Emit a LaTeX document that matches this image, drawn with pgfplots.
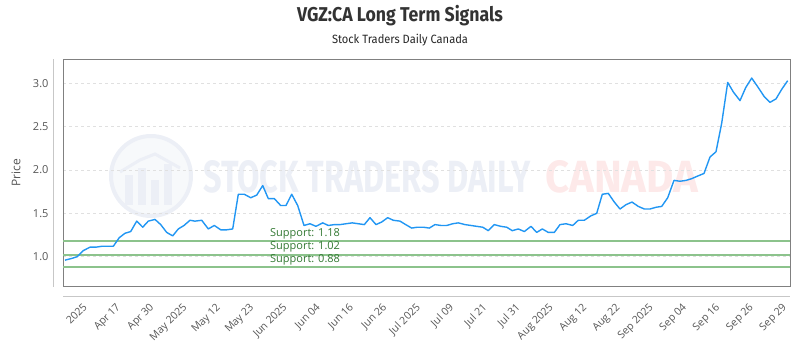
\documentclass[border=0pt]{standalone}
\usepackage{pgfplots}
\pgfplotsset{compat=1.18}
\usepackage{graphicx}
\usepackage{fontspec}
\setmainfont{Open Sans}
\newfontfamily\titlefont{Fira Sans}
\definecolor{linecol}{RGB}{33,150,243}
\definecolor{supcol}{RGB}{140,195,140}
\definecolor{suptxt}{RGB}{50,120,50}
\definecolor{wmblue}{RGB}{236,239,246}
\definecolor{wmpink}{RGB}{253,233,233}
\definecolor{txtgray}{RGB}{85,85,85}
\begin{document}
\begin{tikzpicture}[x=1pt,y=1pt]
\path[use as bounding box] (0,0) rectangle (800,350);
% title
\node[anchor=center,text=black!80] at (400,334) {\resizebox{206pt}{\height}{\titlefont\fontsize{20}{24}\selectfont\bfseries VGZ:CA Long Term Signals}};
\node[anchor=center,text=black!85] at (400,310) {\resizebox{136pt}{\height}{\titlefont\fontsize{12}{14}\selectfont Stock Traders Daily Canada}};
% watermark
\draw[wmblue,line width=4pt,fill=wmblue!40] (151,174) circle (40);
\fill[wmblue] (125,145) rectangle (133,175);
\fill[wmblue] (138,145) rectangle (146,182);
\fill[wmblue] (151,145) rectangle (159,170);
\fill[wmblue] (164,145) rectangle (172,186);
\draw[wmblue,line width=3pt] (120,178) -- (140,190) -- (155,196) -- (180,182);
\node[anchor=south west,inner sep=0] at (203,157) {\resizebox{327pt}{32pt}{\titlefont\bfseries\color{wmblue}STOCK TRADERS DAILY}};
\node[anchor=south west,inner sep=0] at (545,157) {\resizebox{153pt}{32pt}{\titlefont\bfseries\color{wmpink}CANADA}};
% y axis line and x axis line
\draw[black!22,line width=0.8pt] (53,63) -- (53,291);
\draw[black!22,line width=0.8pt] (63,54) -- (790,54);
\node[rotate=90,text=txtgray,font=\fontsize{12}{14}\selectfont] at (16,177) {Price};
\begin{axis}[
  at={(63pt,64pt)}, anchor=south west,
  scale only axis, width=727pt, height=227pt,
  xmin=63, xmax=790, ymin=0.662, ymax=3.28,
  axis line style={black!50,line width=0.8pt},
  major tick length=0pt,
  ytick={1.0,1.5,2.0,2.5,3.0},
  yticklabel style={/pgf/number format/.cd,fixed,fixed zerofill,precision=1,/tikz/.cd, text=txtgray, font=\fontsize{11}{13}\selectfont, xshift=-11pt},
  /pgf/number format/assume math mode=true,
  ymajorgrids,
  major grid style={dashed,black!12,line width=0.5pt},
  xtick={80,113.3,146.6,179.9,213.2,246.5,279.8,313.1,346.4,379.7,413,446.3,479.6,512.9,546.2,579.5,612.8,646.1,679.4,712.7,746,779.3},
  xticklabels={2025,Apr 17,Apr 30,May 2025,May 12,May 23,Jun 2025,Jun 04,Jun 16,Jun 26,Jul 2025,Jul 09,Jul 21,Jul 31,Aug 2025,Aug 12,Aug 22,Sep 2025,Sep 04,Sep 16,Sep 26,Sep 29},
  xticklabel style={rotate=45,anchor=north east,text=txtgray,font=\fontsize{10.5}{12}\selectfont,inner sep=1pt,yshift=-12pt,xshift=-9pt},
  clip=false,
]
\addplot[supcol,line width=1.8pt] coordinates {(63,1.18) (790,1.18)};
\addplot[supcol,line width=1.8pt] coordinates {(63,1.02) (790,1.02)};
\addplot[supcol,line width=1.8pt] coordinates {(63,0.88) (790,0.88)};
\addplot[linecol,line width=1.4pt,line join=round] coordinates {
(65,0.96) (71.7,0.98) (77.3,1.00) (83.3,1.07) (90,1.11) (96,1.11) (101.7,1.12) (107.7,1.12) (113.3,1.12)
(119.3,1.22) (125,1.27) (130.7,1.29) (136.7,1.41) (142.7,1.34) (148.3,1.41) (155,1.43) (160.7,1.37)
(166.7,1.28) (172.7,1.24) (178.3,1.32) (184,1.36) (190,1.42) (195,1.41) (201.7,1.42) (208.3,1.32)
(214.3,1.36) (220.7,1.31) (226.7,1.31) (232.7,1.32) (238.3,1.72) (244.3,1.72) (250.7,1.68) (256.7,1.71)
(262.7,1.82) (268.3,1.67) (274.3,1.67) (280.7,1.59) (286,1.59) (291.7,1.72) (297.7,1.59) (304,1.36)
(310,1.38) (316,1.35) (322.7,1.39) (328.3,1.36) (334.3,1.37) (340,1.37) (346,1.38) (352.3,1.39)
(358.3,1.38) (364.3,1.37) (370,1.45) (376,1.37) (381.7,1.40) (387.7,1.45) (393.3,1.42) (400,1.41)
(405.7,1.37) (411.7,1.33) (417.3,1.34) (423.3,1.34) (429.3,1.33) (435,1.37) (441,1.36) (446.7,1.36)
(452.7,1.38) (458.3,1.39) (465,1.37) (471,1.36) (476.7,1.35) (482.7,1.34) (488.3,1.30) (494.3,1.37)
(500.7,1.35) (506.7,1.34) (512.3,1.30) (518.3,1.32) (524.3,1.29) (531,1.35) (536.7,1.28) (542.3,1.32)
(548.3,1.28) (554.3,1.28) (560,1.37) (566,1.38) (572.7,1.36) (578.3,1.42) (584.3,1.42) (590.7,1.47)
(596.7,1.50) (602.3,1.72) (608.3,1.73) (614.3,1.63) (620,1.55) (626,1.60) (632,1.63) (638.3,1.58)
(644.3,1.55) (650,1.55) (656,1.57) (661.7,1.58) (667.7,1.68) (674,1.88) (680,1.87) (686,1.88)
(691.7,1.90) (697.7,1.93) (704,1.96) (710,2.15) (716,2.21) (721.7,2.54) (727.7,3.01) (733.3,2.90)
(740,2.80) (745.7,2.95) (751.7,3.06) (757.7,2.96) (764,2.85) (770,2.78) (776,2.82) (781.7,2.93) (787.7,3.03)
};
\node[anchor=south west,inner sep=0,text=suptxt,font=\fontsize{11}{13}\selectfont] at (axis cs:270,1.205) {Support: 1.18};
\node[anchor=south west,inner sep=0,text=suptxt,font=\fontsize{11}{13}\selectfont] at (axis cs:270,1.045) {Support: 1.02};
\node[anchor=south west,inner sep=0,text=suptxt,font=\fontsize{11}{13}\selectfont] at (axis cs:270,0.905) {Support: 0.88};
\end{axis}
\end{tikzpicture}
\end{document}
